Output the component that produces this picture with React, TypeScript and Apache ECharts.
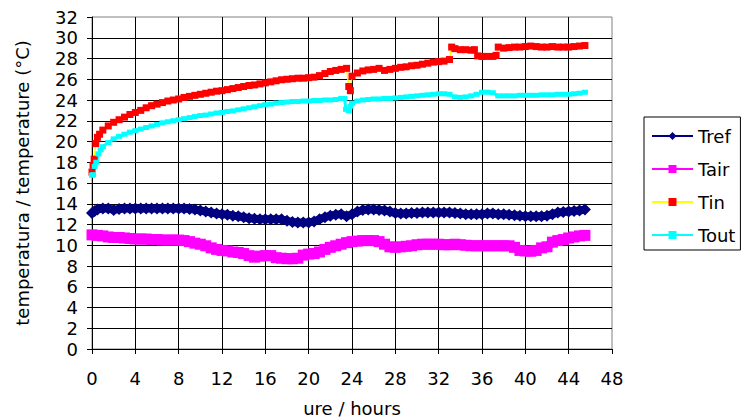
import React, { useEffect, useRef } from "react";
import * as echarts from "echarts";

// [hours, °C]
const trefData: [number, number][] = [
  [0, 13.1], [0.25, 13.3], [0.5, 13.45], [1, 13.55], [1.5, 13.55], [2, 13.4], [2.5, 13.5], [3, 13.55],
  [3.5, 13.55], [4, 13.55], [4.5, 13.55], [5, 13.55], [5.5, 13.55], [6, 13.55], [6.5, 13.55], [7, 13.55],
  [7.5, 13.55], [8, 13.55], [8.5, 13.55], [9, 13.5], [9.5, 13.45], [10, 13.35], [10.5, 13.25], [11, 13.15],
  [11.5, 13.05], [12, 13.0], [12.5, 12.95], [13, 12.85], [13.5, 12.8], [14, 12.7], [14.5, 12.6], [15, 12.55],
  [15.5, 12.5], [16, 12.5], [16.5, 12.5], [17, 12.5], [17.5, 12.5], [18, 12.35], [18.5, 12.25], [19, 12.2],
  [19.5, 12.2], [20, 12.2], [20.5, 12.3], [21, 12.5], [21.5, 12.7], [22, 12.85], [22.5, 12.95], [23, 13.0],
  [23.5, 12.8], [24, 13.0], [24.5, 13.25], [25, 13.4], [25.5, 13.45], [26, 13.45], [26.5, 13.4], [27, 13.35],
  [27.5, 13.25], [28, 13.1], [28.5, 13.05], [29, 13.05], [29.5, 13.1], [30, 13.1], [30.5, 13.15], [31, 13.15],
  [31.5, 13.15], [32, 13.15], [32.5, 13.15], [33, 13.15], [33.5, 13.1], [34, 13.05], [34.5, 13.0], [35, 13.0],
  [35.5, 13.0], [36, 13.0], [36.5, 13.05], [37, 13.05], [37.5, 13.0], [38, 13.0], [38.5, 12.95], [39, 12.9],
  [39.5, 12.85], [40, 12.8], [40.5, 12.8], [41, 12.8], [41.5, 12.8], [42, 12.85], [42.5, 13.0], [43, 13.15],
  [43.5, 13.2], [44, 13.25], [44.5, 13.3], [45, 13.35], [45.5, 13.45],
];

const tairData: [number, number][] = [
  [0, 11.0], [0.5, 10.95], [1, 10.9], [1.5, 10.8], [2, 10.75], [2.5, 10.75], [3, 10.7], [3.5, 10.65],
  [4, 10.6], [4.5, 10.6], [5, 10.6], [5.5, 10.55], [6, 10.55], [6.5, 10.5], [7, 10.5], [7.5, 10.5],
  [8, 10.5], [8.5, 10.45], [9, 10.35], [9.5, 10.2], [10, 10.1], [10.5, 9.95], [11, 9.75], [11.5, 9.6],
  [12, 9.5], [12.5, 9.45], [13, 9.35], [13.5, 9.3], [14, 9.2], [14.5, 9.0], [15, 8.85], [15.5, 8.95],
  [16, 9.0], [16.5, 9.0], [17, 8.8], [17.5, 8.75], [18, 8.7], [18.5, 8.7], [19, 8.75], [19.5, 9.05],
  [20, 9.15], [20.5, 9.2], [21, 9.35], [21.5, 9.6], [22, 9.8], [22.5, 9.95], [23, 10.1], [23.5, 10.25],
  [24, 10.35], [24.5, 10.4], [25, 10.45], [25.5, 10.45], [26, 10.45], [26.5, 10.35], [27, 10.1], [27.5, 9.85],
  [28, 9.8], [28.5, 9.85], [29, 9.9], [29.5, 9.95], [30, 10.05], [30.5, 10.1], [31, 10.1], [31.5, 10.1],
  [32, 10.1], [32.5, 10.05], [33, 10.05], [33.5, 10.1], [34, 10.05], [34.5, 10.0], [35, 9.95], [35.5, 9.95],
  [36, 9.95], [36.5, 9.95], [37, 9.95], [37.5, 9.95], [38, 9.95], [38.5, 9.95], [39, 9.8], [39.5, 9.5],
  [40, 9.45], [40.5, 9.42], [41, 9.5], [41.5, 9.75], [42, 9.85], [42.5, 10.3], [43, 10.45], [43.5, 10.55],
  [44, 10.7], [44.5, 10.8], [45, 10.9], [45.5, 10.95],
];

const tinData: [number, number][] = [
  [0, 17.05], [0.1, 17.7], [0.2, 18.3], [0.35, 19.8], [0.5, 20.4], [0.7, 20.7], [1, 21.1], [1.5, 21.5],
  [2, 21.85], [2.5, 22.1], [3, 22.35], [3.5, 22.6], [4, 22.8], [4.5, 23.0], [5, 23.25], [5.5, 23.45],
  [6, 23.6], [6.5, 23.75], [7, 23.9], [7.5, 24.0], [8, 24.1], [8.5, 24.25], [9, 24.35], [9.5, 24.45],
  [10, 24.55], [10.5, 24.65], [11, 24.75], [11.5, 24.85], [12, 24.9], [12.5, 25.0], [13, 25.1], [13.5, 25.2],
  [14, 25.3], [14.5, 25.4], [15, 25.45], [15.5, 25.55], [16, 25.65], [16.5, 25.75], [17, 25.85], [17.5, 25.95],
  [18, 26.0], [18.5, 26.05], [19, 26.1], [19.5, 26.1], [20, 26.15], [20.5, 26.2], [21, 26.35], [21.5, 26.55],
  [22, 26.75], [22.5, 26.85], [23, 26.95], [23.5, 27.05], [23.7, 25.3], [23.85, 24.9], [24, 26.3], [24.5, 26.6],
  [25, 26.8], [25.5, 26.9], [26, 26.95], [26.5, 27.05], [27, 26.85], [27.5, 26.95], [28, 27.05], [28.5, 27.15],
  [29, 27.2], [29.5, 27.3], [30, 27.35], [30.5, 27.45], [31, 27.55], [31.5, 27.65], [32, 27.7], [32.5, 27.75],
  [33, 27.9], [33.2, 29.1], [33.5, 28.95], [34, 28.85], [34.5, 28.85], [35, 28.8], [35.3, 28.85], [35.6, 28.25],
  [36, 28.2], [36.5, 28.2], [37, 28.2], [37.3, 28.3], [37.5, 29.1], [38, 29.0], [38.5, 29.05], [39, 29.1],
  [39.5, 29.1], [40, 29.15], [40.5, 29.2], [41, 29.15], [41.5, 29.1], [42, 29.1], [42.5, 29.15], [43, 29.1],
  [43.5, 29.1], [44, 29.1], [44.5, 29.15], [45, 29.2], [45.5, 29.25],
];

const toutData: [number, number][] = [
  [0, 16.75], [0.1, 16.8], [0.25, 17.6], [0.4, 18.0], [0.6, 18.8], [0.8, 19.2], [1, 19.5], [1.5, 19.9],
  [2, 20.25], [2.5, 20.5], [3, 20.7], [3.5, 20.9], [4, 21.05], [4.5, 21.2], [5, 21.35], [5.5, 21.5],
  [6, 21.65], [6.5, 21.8], [7, 21.9], [7.5, 22.0], [8, 22.1], [8.5, 22.2], [9, 22.3], [9.5, 22.4],
  [10, 22.5], [10.5, 22.55], [11, 22.65], [11.5, 22.75], [12, 22.8], [12.5, 22.9], [13, 22.95], [13.5, 23.05],
  [14, 23.15], [14.5, 23.25], [15, 23.35], [15.5, 23.45], [16, 23.55], [16.5, 23.6], [17, 23.7], [17.5, 23.75],
  [18, 23.8], [18.5, 23.85], [19, 23.85], [19.5, 23.9], [20, 23.9], [20.5, 23.95], [21, 23.95], [21.5, 24.0],
  [22, 24.0], [22.5, 24.05], [23, 24.15], [23.3, 24.15], [23.45, 23.1], [23.7, 22.95], [23.85, 23.4], [24, 23.7],
  [24.5, 23.9], [25, 24.0], [25.5, 24.05], [26, 24.1], [26.5, 24.1], [27, 24.15], [27.5, 24.15], [28, 24.2],
  [28.5, 24.25], [29, 24.3], [29.5, 24.35], [30, 24.4], [30.5, 24.45], [31, 24.5], [31.5, 24.55], [32, 24.6],
  [32.5, 24.6], [33, 24.55], [33.5, 24.3], [34, 24.25], [34.5, 24.3], [35, 24.4], [35.5, 24.55], [36, 24.75],
  [36.5, 24.75], [37, 24.7], [37.5, 24.4], [38, 24.4], [38.5, 24.4], [39, 24.4], [39.5, 24.45], [40, 24.45],
  [40.5, 24.45], [41, 24.45], [41.5, 24.5], [42, 24.5], [42.5, 24.5], [43, 24.55], [43.5, 24.55], [44, 24.55],
  [44.5, 24.6], [45, 24.65], [45.5, 24.75],
];

const seriesNames = ["Tref", "Tair", "Tin", "Tout"];
const xAxisTitle = "ure / hours";
const yAxisTitle = "temperatura / temperature (°C)";

const FONT = "DejaVu Sans";

export default function App() {
  const ref = useRef<HTMLDivElement>(null);
  useEffect(() => {
    const chart = echarts.init(ref.current!, null, { renderer: "svg" });
    chart.setOption({
      animation: false,
      backgroundColor: "#ffffff",
      textStyle: { fontFamily: FONT },
      grid: {
        left: 92,
        top: 17,
        right: 131,
        bottom: 71,
        show: true,
        borderColor: "#808080",
        borderWidth: 1,
        containLabel: false,
        outerBoundsMode: "none",
      },
      legend: {
        orient: "vertical",
        left: 644,
        top: 117,
        padding: [9, 5, 5, 7],
        itemWidth: 41,
        itemHeight: 10,
        itemGap: 13,
        borderColor: "#000",
        borderWidth: 1,
        textStyle: { fontSize: 18, color: "#000", fontFamily: FONT, lineHeight: 20 },
        data: [
          { name: seriesNames[0], lineStyle: { width: 2 } },
          { name: seriesNames[1], lineStyle: { width: 2 } },
          { name: seriesNames[2], lineStyle: { width: 2 } },
          { name: seriesNames[3], lineStyle: { width: 2 } },
        ],
      },
      xAxis: {
        type: "value",
        min: 0,
        max: 48,
        interval: 4,
        name: xAxisTitle,
        nameLocation: "middle",
        nameGap: 50,
        nameTextStyle: { fontSize: 18, color: "#000", fontFamily: FONT },
        axisLine: { show: true, lineStyle: { color: "#000", width: 1 } },
        axisTick: { show: true, length: 5, lineStyle: { color: "#000" } },
        axisLabel: { fontSize: 18, color: "#000", margin: 20, fontFamily: FONT },
        splitLine: { show: true, showMaxLine: false, lineStyle: { color: "#000", width: 1 } },
      },
      yAxis: {
        type: "value",
        min: 0,
        max: 32,
        interval: 2,
        name: yAxisTitle,
        nameLocation: "middle",
        nameGap: 61,
        nameRotate: 90,
        nameTextStyle: { fontSize: 18, color: "#000", fontFamily: FONT },
        axisLine: { show: true, lineStyle: { color: "#000", width: 1 } },
        axisTick: { show: true, length: 5, lineStyle: { color: "#000" } },
        axisLabel: { fontSize: 18, color: "#000", margin: 14, fontFamily: FONT },
        splitLine: { show: true, showMaxLine: false, lineStyle: { color: "#000", width: 1 } },
      },
      series: [
        {
          name: seriesNames[0],
          type: "line",
          data: trefData,
          symbol: "diamond",
          symbolSize: 12,
          showSymbol: true,
          showAllSymbol: true,
          itemStyle: { color: "#000080" },
          lineStyle: { color: "#000080", width: 8 },
          emphasis: { disabled: true },
        },
        {
          name: seriesNames[1],
          type: "line",
          data: tairData,
          symbol: "rect",
          symbolSize: 11,
          showSymbol: true,
          showAllSymbol: true,
          itemStyle: { color: "#ff00ff" },
          lineStyle: { color: "#ff00ff", width: 9 },
          emphasis: { disabled: true },
        },
        {
          name: seriesNames[2],
          type: "line",
          data: tinData,
          symbol: "rect",
          symbolSize: [7, 7],
          showSymbol: true,
          showAllSymbol: true,
          itemStyle: { color: "#ff0000" },
          lineStyle: { color: "#ffff00", width: 1.5 },
          emphasis: { disabled: true },
        },
        {
          name: seriesNames[3],
          type: "line",
          data: toutData,
          symbol: "rect",
          symbolSize: [6, 5],
          showSymbol: true,
          showAllSymbol: true,
          itemStyle: { color: "#00ffff" },
          lineStyle: { color: "#00ffff", width: 3 },
          emphasis: { disabled: true },
        },
      ],
    });
    return () => chart.dispose();
  }, []);
  return (
    <div
      ref={ref}
      style={{ position: "fixed", left: 0, top: 0, width: 743, height: 420 }}
    />
  );
}
